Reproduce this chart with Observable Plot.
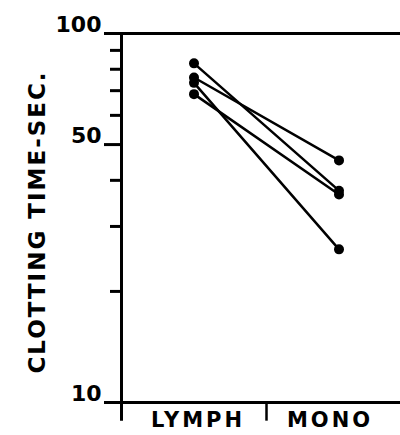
<!DOCTYPE html>
<html>
<head>
<meta charset="utf-8">
<script src="https://cdn.jsdelivr.net/npm/d3@7"></script>
<script src="https://cdn.jsdelivr.net/npm/@observablehq/plot@0.6"></script>
<style>
  html, body { margin: 0; padding: 0; background: #fff; }
  #chart svg { display: block; font-family: "DejaVu Sans", sans-serif; }
</style>
</head>
<body>
<div id="chart"></div>
<script>
// ---- data ----
const groups = ["LYMPH", "MONO"];
const lymphValues = [83, 76, 73.5, 68.5];
const monoValues = [37.5, 45.3, 26, 36.6];
const majorTicks = [10, 50, 100];
const minorTicks = [20, 30, 40, 60, 70, 80, 90];
const yLabel = "CLOTTING TIME-SEC.";
const axisBottomExtent = 8.9; // value below 10 where the boundary ticks end

// build rows (one pair per subject)
const rows = [];
lymphValues.forEach((v, i) => {
  rows.push({subject: i, group: groups[0], value: v});
  rows.push({subject: i, group: groups[1], value: monoValues[i]});
});

const W = 400, H = 435;
const mLeft = 121, mTop = 33, yBottom = 402;
const bandW = 145;

const chart = Plot.plot({
  width: W,
  height: H,
  marginLeft: mLeft,
  marginRight: 0,
  marginTop: mTop,
  marginBottom: H - yBottom,
  style: {background: "white", color: "black", overflow: "visible"},
  x: {type: "band", domain: groups, range: [mLeft, mLeft + 2 * bandW], padding: 0, axis: null},
  y: {type: "log", domain: [10, 100], range: [yBottom, mTop], axis: null},
  marks: [
    // top and bottom frame lines
    Plot.ruleY([10, 100], {stroke: "black", strokeWidth: 3}),
    // minor ticks
    Plot.axisY(minorTicks, {tickSize: 11, tickFormat: () => "", strokeWidth: 3, label: null}),
    // major ticks
    Plot.axisY(majorTicks, {tickSize: 17, tickFormat: () => "", strokeWidth: 3, label: null}),
    // major tick labels
    Plot.text(majorTicks, {
      y: d => d, text: d => String(d), frameAnchor: "left", dx: -20, dy: -2,
      textAnchor: "end", lineAnchor: "bottom", fontSize: 22, fontWeight: "bold", fill: "black"
    }),
    // y axis line (band boundary at LYMPH) extending below
    Plot.ruleX(groups.slice(0, 1), {x: d => d, dx: -bandW / 2, y1: axisBottomExtent, y2: 100, stroke: "black", strokeWidth: 3}),
    // boundary tick between groups
    Plot.ruleX(groups.slice(1), {x: d => d, dx: -bandW / 2, y1: axisBottomExtent, y2: 10, stroke: "black", strokeWidth: 2.5}),
    // group labels
    Plot.text(groups.slice(0, 1), {x: d => d, y: axisBottomExtent, dx: 4, dy: -1, text: d => d, fontSize: 21, fontWeight: "bold", fill: "black"}),
    Plot.text(groups.slice(1), {x: d => d, y: axisBottomExtent, dx: -9, dy: -1, text: d => d, fontSize: 21, fontWeight: "bold", fill: "black"}),
    // y label
    Plot.text([yLabel], {
      frameAnchor: "left", textAnchor: "middle", dx: -84, dy: 4, rotate: -90, text: d => d,
      fontSize: 23, fontWeight: "bold", fill: "black"
    }),
    // data
    Plot.line(rows, {x: "group", y: "value", z: "subject", stroke: "black", strokeWidth: 2.5}),
    Plot.dot(rows, {x: "group", y: "value", r: 5, fill: "black", stroke: "none"})
  ]
});

// letter spacing for text labels
d3.select(chart).selectAll("text").filter(function() { return ["LYMPH","MONO"].includes(this.textContent); })
  .attr("letter-spacing", "3px");
d3.select(chart).selectAll("text").filter(function() { return this.textContent === yLabel; })
  .attr("letter-spacing", "2px");

document.getElementById("chart").appendChild(chart);
</script>
</body>
</html>
